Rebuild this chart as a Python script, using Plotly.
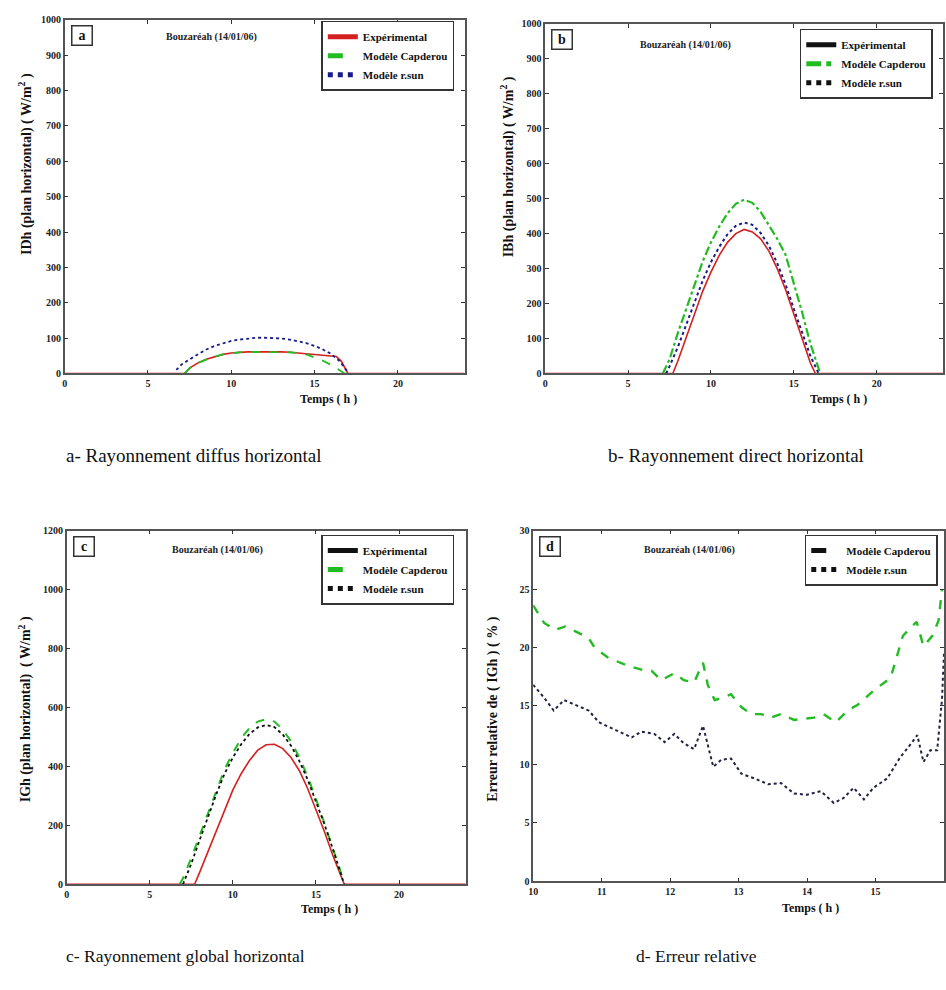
import plotly.graph_objects as go

W, H = 946, 990

# ---------------- data ----------------
# Panel a : IDh (diffuse horizontal)
a_exp_t = [0, 7.2, 7.5, 8, 8.5, 9, 9.5, 10, 10.5, 11, 12, 12.5, 13, 13.5, 14, 14.5, 15, 15.5, 16, 16.3, 16.6, 16.9, 17, 24]
a_exp_v = [0, 0, 15, 30, 40, 48, 54, 58, 60, 61, 61, 62, 61, 60, 58, 55, 52, 50, 50, 48, 35, 5, 0, 0]
a_cap_t = [7.2, 7.5, 8, 8.5, 9, 9.5, 10, 10.5, 11, 12, 12.5, 13, 13.5, 14, 14.5, 15, 15.5, 16, 16.5, 16.8]
a_cap_v = [0, 15, 30, 40, 48, 54, 58, 60, 61, 61, 62, 61, 60, 58, 54, 45, 36, 24, 10, 0]
a_rsun_t = [6.7, 7, 7.5, 8, 8.5, 9, 9.5, 10, 10.5, 11, 11.5, 12, 12.5, 13, 13.5, 14, 14.5, 15, 15.5, 16, 16.5, 16.9, 17]
a_rsun_v = [10, 25, 40, 55, 68, 78, 86, 92, 96, 99, 101, 101, 101, 99, 96, 92, 86, 78, 68, 55, 35, 10, 0]

# Panel b : IBh (direct horizontal)
b_exp_t = [0, 7.7, 8, 8.5, 9, 9.5, 10, 10.5, 11, 11.5, 12, 12.5, 13, 13.5, 14, 14.5, 15, 15.5, 16, 16.3, 24]
b_exp_v = [0, 0, 35, 100, 170, 235, 290, 338, 375, 400, 412, 405, 385, 350, 300, 240, 170, 100, 30, 0, 0]
b_cap_t = [7.1, 7.5, 8, 8.5, 9, 9.5, 10, 10.5, 11, 11.5, 12, 12.5, 13, 13.5, 14, 14.5, 15, 15.5, 16, 16.4, 16.6]
b_cap_v = [0, 40, 115, 185, 255, 320, 375, 420, 458, 485, 497, 488, 462, 425, 385, 340, 260, 175, 85, 25, 0]
b_rsun_t = [7.3, 7.5, 8, 8.5, 9, 9.5, 10, 10.5, 11, 11.5, 12, 12.5, 13, 13.5, 14, 14.5, 15, 15.5, 16, 16.5]
b_rsun_v = [0, 20, 75, 140, 205, 265, 318, 362, 398, 422, 432, 425, 402, 365, 315, 255, 185, 115, 50, 0]

# Panel c : IGh (global horizontal)
c_exp_t = [0, 7.7, 8, 8.5, 9, 9.5, 10, 10.5, 11, 11.5, 12, 12.5, 13, 13.5, 14, 14.5, 15, 15.5, 16, 16.5, 16.7, 24]
c_exp_v = [0, 0, 40, 110, 185, 255, 320, 375, 420, 455, 473, 475, 460, 430, 385, 325, 255, 180, 100, 25, 0, 0]
c_cap_t = [6.8, 7, 7.5, 8, 8.5, 9, 9.5, 10, 10.5, 11, 11.5, 12, 12.5, 13, 13.5, 14, 14.5, 15, 15.5, 16, 16.5, 16.7]
c_cap_v = [0, 20, 90, 165, 245, 320, 390, 445, 495, 530, 552, 560, 552, 525, 485, 430, 365, 290, 210, 125, 40, 0]
c_rsun_t = [7.0, 7.5, 8, 8.5, 9, 9.5, 10, 10.5, 11, 11.5, 12, 12.5, 13, 13.5, 14, 14.5, 15, 15.5, 16, 16.5, 16.7]
c_rsun_v = [0, 70, 150, 230, 305, 375, 430, 475, 510, 532, 540, 533, 508, 470, 418, 355, 282, 205, 122, 40, 0]

# Panel d : relative error of IGh (%)
d_cap_t = [10.0, 10.16, 10.32, 10.47, 10.61, 10.81, 10.9, 11.1, 11.4, 11.58, 11.73, 11.87, 12.06, 12.2, 12.35,
           12.48, 12.55, 12.65, 12.77, 12.89, 13.04, 13.18, 13.33, 13.47, 13.62, 13.81, 13.95, 14.1, 14.24,
           14.42, 14.59, 14.74, 14.97, 15.22, 15.4, 15.6, 15.7, 15.83, 15.92, 15.97]
d_cap_v = [23.6, 22.1, 21.5, 21.8, 21.4, 20.8, 19.95, 19.1, 18.4, 18.1, 18.0, 17.2, 17.8, 17.2, 17.0,
           18.7, 16.8, 15.5, 15.7, 16.0, 14.9, 14.3, 14.3, 14.0, 14.3, 13.8, 13.9, 14.0, 14.3,
           13.6, 14.6, 15.1, 16.3, 17.4, 21.0, 22.2, 20.1, 21.0, 22.3, 24.9]
d_rsun_t = [10.0, 10.16, 10.3, 10.45, 10.61, 10.81, 10.96, 11.19, 11.44, 11.58, 11.77, 11.92, 12.06, 12.2,
            12.35, 12.48, 12.63, 12.75, 12.89, 13.04, 13.23, 13.43, 13.62, 13.81, 14.0, 14.2, 14.39, 14.53,
            14.68, 14.83, 14.97, 15.17, 15.36, 15.51, 15.61, 15.7, 15.8, 15.9, 15.97, 16.0]
d_rsun_v = [16.8, 15.7, 14.6, 15.5, 15.1, 14.6, 13.6, 13.0, 12.3, 12.8, 12.6, 11.9, 12.6, 11.8,
            11.3, 13.3, 9.8, 10.4, 10.5, 9.2, 8.8, 8.3, 8.4, 7.5, 7.4, 7.7, 6.7, 7.1,
            8.0, 7.0, 8.0, 8.8, 10.6, 11.7, 12.5, 10.2, 11.2, 11.2, 15.5, 19.5]

L_EXP = "Expérimental"
L_CAP = "Modèle Capderou"
L_RSUN = "Modèle r.sun"
SITE = "Bouzaréah (14/01/06)"
CAPTIONS = ["a- Rayonnement diffus horizontal", "b- Rayonnement direct horizontal",
            "c- Rayonnement global horizontal", "d- Erreur relative"]
YTITLES = ["IDh (plan horizontal) ( W/m<sup>2</sup> )", "IBh (plan horizontal) ( W/m<sup>2</sup> )",
           "IGh (plan horizontal)  ( W/m<sup>2</sup> )", "Erreur relative de ( IGh ) ( % )"]

RED = "#d42020"
GREEN = "#22bb22"
BLUE = "#1a1a8c"
BLACK = "#111111"
SERIF = "Liberation Serif"

fig = go.Figure()

def px_x(p):
    return p / W

def px_y(p):
    return 1 - p / H

# panel geometry in pixels: (left, right, top, bottom)
geo = {
    1: (60, 462, 14, 372),
    2: (543, 943, 18, 372),
    3: (62, 463, 531, 889),
    4: (531, 944, 531, 886),
}

def axn(ax):
    return "" if ax == 1 else str(ax)

def add(xs, ys, ax, color, dash, width, name, legend, show=True):
    fig.add_trace(go.Scatter(x=xs, y=ys, mode="lines", name=name,
                             line=dict(color=color, dash=dash, width=width),
                             xaxis="x" + axn(ax), yaxis="y" + axn(ax),
                             legend=legend, showlegend=show))

def legend_only(ax, color, dash, width, name, legend):
    fig.add_trace(go.Scatter(x=[None], y=[None], mode="lines", name=name,
                             line=dict(color=color, dash=dash, width=width),
                             xaxis="x" + axn(ax), yaxis="y" + axn(ax),
                             legend=legend, showlegend=True))

# panel a
add(a_exp_t, a_exp_v, 1, RED, "solid", 1.6, L_EXP, "legend")
add(a_cap_t, a_cap_v, 1, GREEN, "dash", 1.8, L_CAP, "legend")
add(a_rsun_t, a_rsun_v, 1, BLUE, "dot", 1.8, L_RSUN, "legend")

# panel b
add(b_exp_t, b_exp_v, 2, RED, "solid", 1.6, L_EXP, "legend2", show=False)
add(b_cap_t, b_cap_v, 2, GREEN, "dashdot", 2.2, L_CAP, "legend2", show=False)
add(b_rsun_t, b_rsun_v, 2, BLUE, "dot", 2.0, L_RSUN, "legend2", show=False)
legend_only(2, BLACK, "solid", 1.8, L_EXP, "legend2")
legend_only(2, GREEN, "dashdot", 2.2, L_CAP, "legend2")
legend_only(2, BLACK, "dot", 2.0, L_RSUN, "legend2")

# panel c
add(c_exp_t, c_exp_v, 3, RED, "solid", 1.6, L_EXP, "legend3", show=False)
add(c_cap_t, c_cap_v, 3, GREEN, "dash", 2.0, L_CAP, "legend3", show=False)
add(c_rsun_t, c_rsun_v, 3, BLACK, "dot", 1.8, L_RSUN, "legend3", show=False)
legend_only(3, BLACK, "solid", 1.8, L_EXP, "legend3")
legend_only(3, GREEN, "dash", 2.0, L_CAP, "legend3")
legend_only(3, BLACK, "dot", 1.8, L_RSUN, "legend3")

# panel d
add(d_cap_t, d_cap_v, 4, GREEN, "dash", 2.4, L_CAP, "legend4", show=False)
add(d_rsun_t, d_rsun_v, 4, "#222244", "dot", 2.0, L_RSUN, "legend4", show=False)
legend_only(4, BLACK, "dash", 1.6, L_CAP, "legend4")
legend_only(4, BLACK, "dot", 1.8, L_RSUN, "legend4")

tickfont = dict(family=SERIF, size=10, color="#222", weight="bold")
axcommon = dict(showline=True, linecolor="#555", linewidth=1.5, mirror="ticks", ticks="inside",
                ticklen=4, tickcolor="#333", showgrid=False, zeroline=False, tickfont=tickfont)

xranges = {1: [0, 24], 2: [0, 24], 3: [0, 24], 4: [10, 16]}
xtickv = {1: [0, 5, 10, 15, 20], 2: [0, 5, 10, 15, 20], 3: [0, 5, 10, 15, 20], 4: [10, 11, 12, 13, 14, 15, 16]}
yranges = {1: [0, 1000], 2: [0, 1000], 3: [0, 1200], 4: [0, 30]}
ydt = {1: 100, 2: 100, 3: 200, 4: 5}

layout = dict(width=W, height=H, margin=dict(l=0, r=0, t=0, b=0),
              paper_bgcolor="white", plot_bgcolor="white", showlegend=True)

for k, (l, r, t, b) in geo.items():
    sx = axn(k)
    layout["xaxis" + sx] = dict(axcommon, domain=[px_x(l), px_x(r)], range=xranges[k],
                                tickvals=xtickv[k], anchor="y" + sx)
    layout["yaxis" + sx] = dict(axcommon, domain=[px_y(b), px_y(t)], range=yranges[k],
                                dtick=ydt[k], tick0=0, anchor="x" + sx)

# legends
leg_boxes = {
    "legend": (318, 15),
    "legend2": (799, 23),
    "legend3": (318, 535),
    "legend4": (804, 535),
}
for name, (lx, ly) in leg_boxes.items():
    layout[name] = dict(x=px_x(lx), y=px_y(ly), xanchor="left", yanchor="top",
                        bgcolor="white", bordercolor="#333", borderwidth=1.5,
                        font=dict(family=SERIF, size=11, color="#111", weight="bold"),
                        tracegroupgap=0, itemwidth=30, itemsizing="constant")

annotations = []
letters = ["a", "b", "c", "d"]
letter_pos = [(77, 30), (560, 34), (79, 547), (548, 547)]
site_pos = [(208, 31), (684, 39), (214, 551), (688, 551)]
xlab_pos = [(325, 398), (838, 398), (326, 914), (810, 913)]
ylab_pos = [(20, 160), (505, 163), (20, 712), (491, 712)]
cap_pos = [(190, 455), (735, 455), (181, 962), (695, 962)]
cap_size = [19, 19, 17.5, 17.5]

for i in range(4):
    annotations.append(dict(x=px_x(letter_pos[i][0]), y=px_y(letter_pos[i][1]), xref="paper", yref="paper",
                            text="<b>" + letters[i] + "</b>", showarrow=False,
                            font=dict(family=SERIF, size=14, color="#111"),
                            bordercolor="#333", borderwidth=1.5, borderpad=1, width=17, height=16,
                            xanchor="center", yanchor="middle"))
    annotations.append(dict(x=px_x(site_pos[i][0]), y=px_y(site_pos[i][1]), xref="paper", yref="paper",
                            text="<b>" + SITE + "</b>", showarrow=False,
                            font=dict(family=SERIF, size=10, color="#222"),
                            xanchor="center", yanchor="middle"))
    annotations.append(dict(x=px_x(xlab_pos[i][0]), y=px_y(xlab_pos[i][1]), xref="paper", yref="paper",
                            text="<b>Temps ( h )</b>", showarrow=False,
                            font=dict(family=SERIF, size=12, color="#111"),
                            xanchor="center", yanchor="middle"))
    annotations.append(dict(x=px_x(ylab_pos[i][0]), y=px_y(ylab_pos[i][1]), xref="paper", yref="paper",
                            text="<b>" + YTITLES[i] + "</b>", showarrow=False, textangle=-90,
                            font=dict(family=SERIF, size=14, color="#111"),
                            xanchor="center", yanchor="middle"))
    annotations.append(dict(x=px_x(cap_pos[i][0]), y=px_y(cap_pos[i][1]), xref="paper", yref="paper",
                            text=CAPTIONS[i], showarrow=False,
                            font=dict(family=SERIF, size=cap_size[i], color="#111"),
                            xanchor="center", yanchor="middle"))

layout["annotations"] = annotations
fig.update_layout(**layout)
fig.write_html("out.html")
